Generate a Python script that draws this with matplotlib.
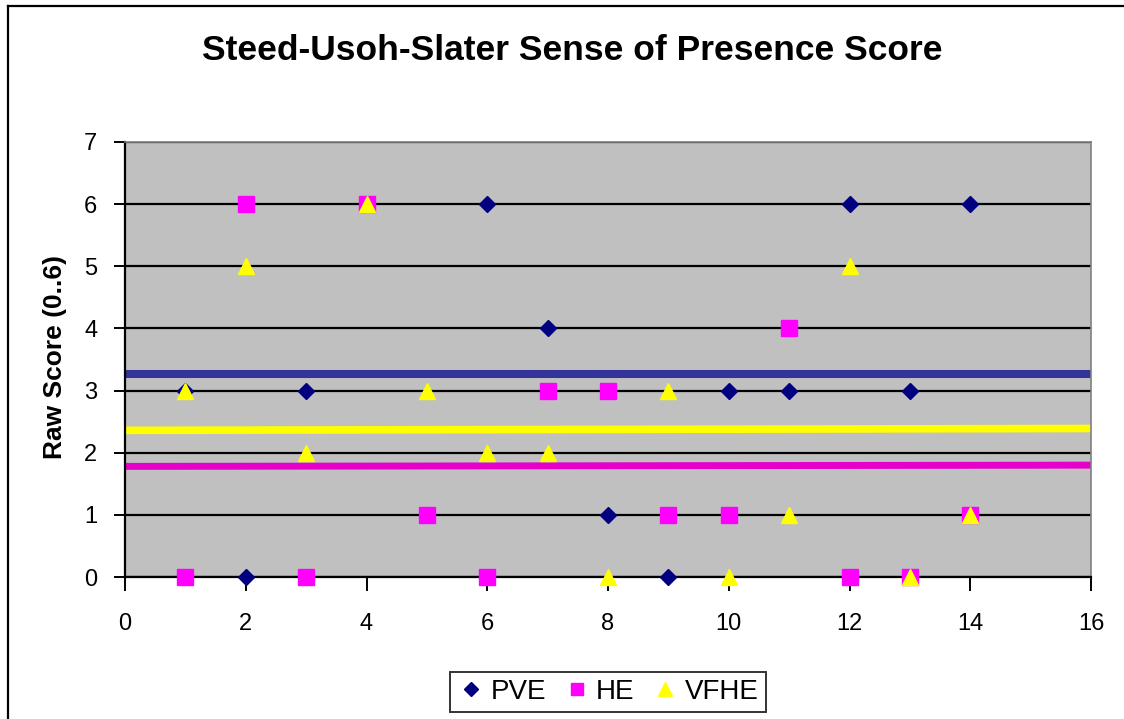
import matplotlib
matplotlib.use("Agg")
import matplotlib.pyplot as plt
from matplotlib.lines import Line2D

plt.rcParams['font.family'] = ['Liberation Sans', 'DejaVu Sans']

# ---- data ----
participants = [1, 2, 3, 4, 5, 6, 7, 8, 9, 10, 11, 12, 13, 14]
pve = [3, 0, 3, 6, 1, 6, 4, 1, 0, 3, 3, 6, 3, 6]
he = [0, 6, 0, 6, 1, 0, 3, 3, 1, 1, 4, 0, 0, 1]
vfhe = [3, 5, 2, 6, 3, 2, 2, 0, 3, 0, 1, 5, 0, 1]
series_names = ["PVE", "HE", "VFHE"]
# mean/trend lines: value at x=0 and x=16
line_x = [0, 16]
pve_line = [3.27, 3.27]
he_line = [1.78, 1.80]
vfhe_line = [2.36, 2.39]
title = "Steed-Usoh-Slater Sense of Presence Score"
ylabel = "Raw Score (0..6)"

W, H = 1124, 719
fig = plt.figure(figsize=(W / 100, H / 100), dpi=100)
fig.patch.set_facecolor('white')

# outer chart-area border (left and top visible)
fig.add_artist(Line2D([8 / W, 8 / W], [0, 1 - 6 / H], transform=fig.transFigure,
                      color='black', lw=1.6))
fig.add_artist(Line2D([8 / W, 1.0], [1 - 6 / H, 1 - 6 / H], transform=fig.transFigure,
                      color='black', lw=1.6))

ax = fig.add_axes([125 / W, 1 - 577 / H, (1091 - 125) / W, (577 - 142) / H])
ax.set_facecolor('#C0C0C0')
ax.set_xlim(0, 16)
ax.set_ylim(0, 7)
ax.set_xticks(range(0, 17, 2))
ax.set_yticks(range(0, 8))
ax.grid(axis='y', color='black', lw=1.6, zorder=1)
ax.set_axisbelow(True)

for s in ['top', 'right']:
    ax.spines[s].set_color('#808080')
    ax.spines[s].set_linewidth(1.2)
for s in ['left', 'bottom']:
    ax.spines[s].set_color('black')
    ax.spines[s].set_linewidth(1.6)

ax.tick_params(axis='y', direction='out', length=8, width=1.4, pad=12,
               labelsize=17, colors='black')
ax.tick_params(axis='x', direction='out', length=10, width=1.4, pad=16,
               labelsize=17, colors='black')

# mean lines
ax.plot(line_x, pve_line, color='#333399', lw=5.8, zorder=2, solid_capstyle='butt')
ax.plot(line_x, vfhe_line, color='#FFFF00', lw=5.5, zorder=2, solid_capstyle='butt')
ax.plot(line_x, he_line, color='#E600CC', lw=5.0, zorder=2, solid_capstyle='butt')

# scatter series
ax.plot(participants, pve, linestyle='none', marker='D', ms=8.5, color='#000080',
        mec='#000080', label=series_names[0], zorder=3, clip_on=False)
ax.plot(participants, he, linestyle='none', marker='s', ms=11.5, color='#FF00FF',
        mec='#FF00FF', label=series_names[1], zorder=4, clip_on=False)
ax.plot(participants, vfhe, linestyle='none', marker='^', ms=12, color='#FFFF00',
        mec='#FFFF00', label=series_names[2], zorder=5, clip_on=False)

fig.text(572 / W, 1 - 51 / H, title, ha='center', va='center', fontsize=25.5,
         fontweight='bold')
fig.text(55 / W, 1 - 357 / H, ylabel, ha='center', va='center', rotation=90,
         fontsize=19, fontweight='bold')

leg = fig.legend(loc='center', bbox_to_anchor=(608 / W, 1 - 692 / H), ncol=3,
                 frameon=True, fancybox=False, edgecolor='black', fontsize=20,
                 handletextpad=0.2, columnspacing=0.6, handlelength=1.0,
                 borderpad=0.25, markerscale=0.8)
leg.get_frame().set_linewidth(1.4)

fig.savefig('out.png', dpi=100)
